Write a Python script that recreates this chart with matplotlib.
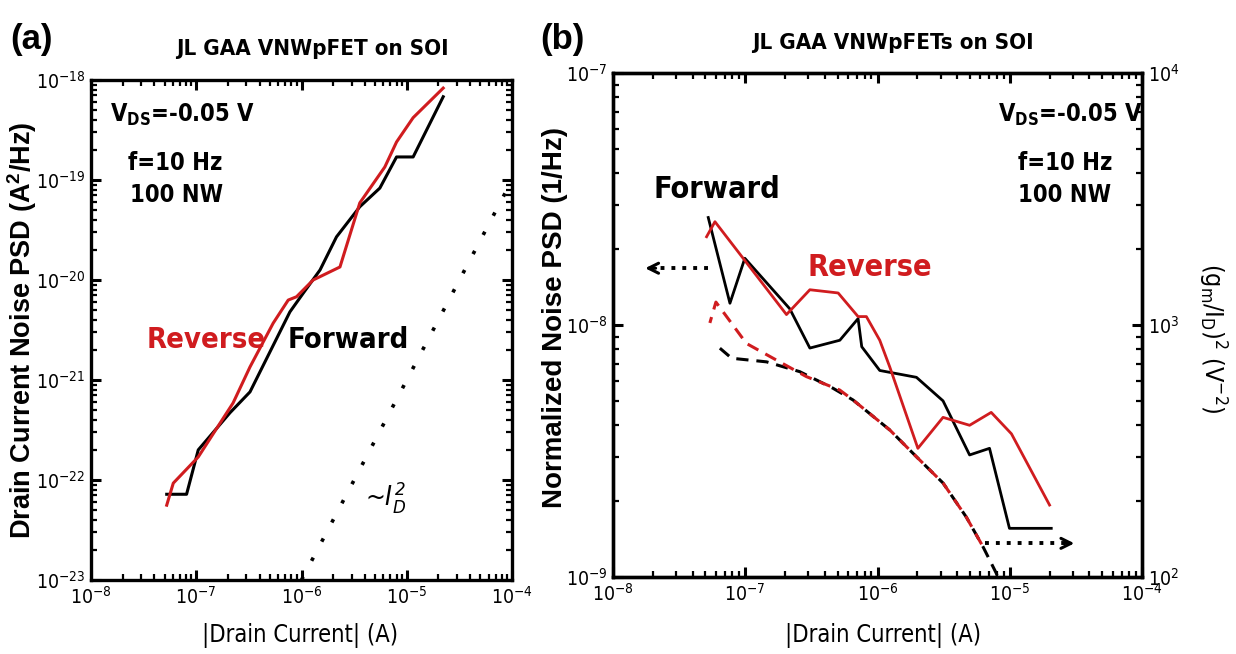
import numpy as np
import matplotlib
matplotlib.use("Agg")
import matplotlib.pyplot as plt
from matplotlib import font_manager

# ---- data ----
# (a) drain current noise PSD vs |Id|
a_fwd_i = [5.24e-8, 8.09e-8, 1.045e-7, 2.09e-7, 3.24e-7, 7.76e-7, 1.04e-6, 1.50e-6,
           2.15e-6, 3.58e-6, 5.55e-6, 8.0e-6, 1.15e-5, 2.22e-5]
a_fwd_s = [7.2e-23, 7.2e-23, 2.0e-22, 4.7e-22, 7.6e-22, 4.8e-21, 7.4e-21, 1.26e-20,
           2.7e-20, 5.4e-20, 8.3e-20, 1.7e-19, 1.7e-19, 6.8e-19]
a_rev_i = [5.24e-8, 6.05e-8, 1.045e-7, 2.24e-7, 3.24e-7, 5.38e-7, 7.48e-7, 8.97e-7,
           1.29e-6, 2.32e-6, 3.58e-6, 6.19e-6, 8.0e-6, 1.15e-5, 2.22e-5]
a_rev_s = [5.6e-23, 9.3e-23, 1.7e-22, 5.9e-22, 1.35e-21, 3.7e-21, 6.3e-21, 6.8e-21,
           1.0e-20, 1.35e-20, 5.9e-20, 1.35e-19, 2.4e-19, 4.2e-19, 8.3e-19]
a_ref_i = [1.0e-6, 9.5e-5]          # ~Id^2 guide
a_ref_s = [1.0e-23, 9.0e-20]

# (b) normalized noise PSD (left axis) and (gm/Id)^2 (right axis)
b_fwd_i = [5.25e-8, 7.66e-8, 9.93e-8, 2.17e-7, 3.08e-7, 5.19e-7, 7.13e-7, 7.6e-7,
           1.04e-6, 1.97e-6, 3.13e-6, 4.97e-6, 7.03e-6, 9.95e-6, 2.06e-5]
b_fwd_s = [2.67e-8, 1.22e-8, 1.84e-8, 1.16e-8, 8.1e-9, 8.7e-9, 1.06e-8, 8.2e-9,
           6.6e-9, 6.2e-9, 5.0e-9, 3.05e-9, 3.24e-9, 1.56e-9, 1.56e-9]
b_rev_i = [5.1e-8, 5.9e-8, 2.05e-7, 3.08e-7, 5.04e-7, 7.13e-7, 8.24e-7, 1.04e-6,
           1.24e-6, 2.02e-6, 3.13e-6, 4.97e-6, 7.24e-6, 1.03e-5, 2.0e-5]
b_rev_s = [2.24e-8, 2.57e-8, 1.10e-8, 1.38e-8, 1.34e-8, 1.08e-8, 1.08e-8, 8.7e-9,
           6.8e-9, 3.24e-9, 4.3e-9, 4.0e-9, 4.5e-9, 3.7e-9, 1.93e-9]
b_fwd_gm_i = [6.43e-8, 7.89e-8, 1.45e-7, 2.58e-7, 4.61e-7, 6.53e-7, 1.24e-6, 1.97e-6,
              3.13e-6, 4.69e-6, 6.27e-6, 7.91e-6, 8.83e-6]
b_fwd_gm = [809, 738, 714, 653, 561, 504, 383, 300, 236, 173, 132, 103.5, 88.7]
b_rev_gm_i = [5.4e-8, 6.0e-8, 1.02e-7, 1.82e-7, 2.9e-7, 5.18e-7, 6.53e-7, 1.24e-6,
              1.97e-6, 3.13e-6, 4.69e-6, 6.27e-6]
b_rev_gm = [1019, 1233, 845, 714, 624, 552, 504, 383, 300, 236, 173, 132]
arrow_left = [(5.2e-8, 1.68e-8), (1.75e-8, 1.68e-8)]   # tail, head (left axis)
arrow_right = [(6.45e-6, 136.0), (3.08e-5, 136.0)]     # tail, head (right axis)

RED = "#d01c1f"

# a condensed face if one is installed, else plain Liberation Sans
cond = [f for f in font_manager.fontManager.ttflist
        if f.name == "DejaVu Sans" and str(f.stretch) in ("condensed", "semi-condensed")]
if cond:
    NARROW, STRETCH = "DejaVu Sans", "condensed"
else:
    NARROW, STRETCH = "Liberation Sans", "normal"
WIDE = "Liberation Sans"

plt.rcParams["font.family"] = [NARROW, "DejaVu Sans"]
plt.rcParams["font.stretch"] = STRETCH
plt.rcParams["mathtext.default"] = "regular"
plt.rcParams["axes.unicode_minus"] = False

W, H = 1236, 654
fig = plt.figure(figsize=(W / 100, H / 100), dpi=100)
ax_a = fig.add_axes([91 / W, (H - 580) / H, 421 / W, 500 / H])
ax_b = fig.add_axes([613 / W, (H - 577) / H, 529 / W, 504 / H])
ax_r = ax_b.twinx()


def style(ax, left=True, right=True):
    for sp in ax.spines.values():
        sp.set_linewidth(2.4)
    ax.tick_params(which="both", direction="in", top=True, left=left, right=right,
                   labelsize=14)
    ax.tick_params(which="major", length=7.5, width=2.2, pad=4)
    ax.tick_params(which="minor", length=4.5, width=1.6)
    ax.tick_params(axis="y", pad=4)


# ---- panel (a) ----
ax_a.set_xscale("log")
ax_a.set_yscale("log")
ax_a.plot(a_fwd_i, a_fwd_s, color="black", lw=2.2)
ax_a.plot(a_rev_i, a_rev_s, color=RED, lw=2.2)
ax_a.plot(a_ref_i, a_ref_s, color="black", lw=2.6, linestyle=(0, (1, 5)))
ax_a.set_xlim(1e-8, 1e-4)
ax_a.set_ylim(1e-23, 1e-18)
style(ax_a)

ax_a.text(0.045, 0.93, r"V$_{DS}$=-0.05 V", transform=ax_a.transAxes, fontsize=17,
          fontweight="bold", ha="left", va="center")
ax_a.text(0.088, 0.834, "f=10 Hz", transform=ax_a.transAxes, fontsize=17,
          fontweight="bold", ha="left", va="center")
ax_a.text(0.093, 0.77, "100 NW", transform=ax_a.transAxes, fontsize=17,
          fontweight="bold", ha="left", va="center")
ax_a.text(0.133, 0.48, "Reverse", transform=ax_a.transAxes, fontsize=21,
          fontweight="bold", color=RED, ha="left", va="center")
ax_a.text(0.466, 0.48, "Forward", transform=ax_a.transAxes, fontsize=21,
          fontweight="bold", ha="left", va="center")
ax_a.text(0.65, 0.166, r"~$I_D^{\,2}$", transform=ax_a.transAxes, fontsize=19,
          style="italic", ha="left", va="center")

fig.text(0.243, 1 - 636 / H, "|Drain Current| (A)", fontsize=17, ha="center", va="center")
fig.text(22 / W, 1 - 330 / H, "Drain Current Noise PSD (A$^2$/Hz)", family=WIDE,
         stretch="normal", fontsize=19.5, fontweight="bold", rotation=90,
         ha="center", va="center")
fig.text(312 / W, 1 - 49 / H, "JL GAA VNWpFET on SOI", fontsize=16, fontweight="bold",
         ha="center", va="center")
fig.text(10 / W, 1 - 40 / H, "(a)", family=WIDE, stretch="normal", fontsize=25,
         fontweight="bold", ha="left", va="center")

# ---- panel (b) ----
ax_b.set_xscale("log")
ax_b.set_yscale("log")
ax_b.plot(b_fwd_i, b_fwd_s, color="black", lw=2.0)
ax_b.plot(b_rev_i, b_rev_s, color=RED, lw=2.0)
ax_b.plot([arrow_left[0][0], arrow_left[1][0] * 1.15], [arrow_left[0][1]] * 2,
          color="black", lw=2.8, linestyle=(0, (1, 1.8)))
ax_b.annotate("", xy=arrow_left[1], xytext=(arrow_left[1][0] * 1.2, arrow_left[1][1]),
              arrowprops=dict(arrowstyle="->", lw=2.2, color="black",
                              mutation_scale=18, shrinkA=0, shrinkB=0))
ax_b.set_xlim(1e-8, 1e-4)
ax_b.set_ylim(1e-9, 1e-7)
style(ax_b, right=False)

ax_r.set_yscale("log")
ax_r.plot(b_fwd_gm_i, b_fwd_gm, color="black", lw=2.2, linestyle=(0, (4, 2.6)))
ax_r.plot(b_rev_gm_i, b_rev_gm, color=RED, lw=2.2, linestyle=(2, (4, 2.6)))
ax_r.plot([arrow_right[0][0], arrow_right[1][0] / 1.15], [arrow_right[0][1]] * 2,
          color="black", lw=2.8, linestyle=(0, (1, 1.8)))
ax_r.annotate("", xy=arrow_right[1], xytext=(arrow_right[1][0] / 1.2, arrow_right[1][1]),
              arrowprops=dict(arrowstyle="->", lw=2.2, color="black",
                              mutation_scale=18, shrinkA=0, shrinkB=0))
ax_r.set_ylim(1e2, 1e4)
ax_r.set_xlim(1e-8, 1e-4)
style(ax_r, left=False)

ax_b.text(0.728, 0.917, r"V$_{DS}$=-0.05 V", transform=ax_b.transAxes, fontsize=17,
          fontweight="bold", ha="left", va="center")
ax_b.text(0.766, 0.821, "f=10 Hz", transform=ax_b.transAxes, fontsize=17,
          fontweight="bold", ha="left", va="center")
ax_b.text(0.766, 0.758, "100 NW", transform=ax_b.transAxes, fontsize=17,
          fontweight="bold", ha="left", va="center")
ax_b.text(0.076, 0.768, "Forward", transform=ax_b.transAxes, fontsize=22,
          fontweight="bold", ha="left", va="center")
ax_b.text(0.367, 0.615, "Reverse", transform=ax_b.transAxes, fontsize=22,
          fontweight="bold", color=RED, ha="left", va="center")

fig.text(883 / W, 1 - 636 / H, "|Drain Current| (A)", fontsize=17, ha="center", va="center")
fig.text(555 / W, 1 - 318 / H, "Normalized Noise PSD (1/Hz)", family=WIDE,
         stretch="normal", fontsize=20, fontweight="bold", rotation=90,
         ha="center", va="center")
fig.text(1212 / W, 1 - 338 / H, r"(g$_m$/I$_D$)$^2$ (V$^{-2}$)", fontsize=18,
         rotation=270, ha="center", va="center")
fig.text(893 / W, 1 - 43 / H, "JL GAA VNWpFETs on SOI", fontsize=16, fontweight="bold",
         ha="center", va="center")
fig.text(540 / W, 1 - 40 / H, "(b)", family=WIDE, stretch="normal", fontsize=25,
         fontweight="bold", ha="left", va="center")

fig.savefig("out.png", dpi=100)
